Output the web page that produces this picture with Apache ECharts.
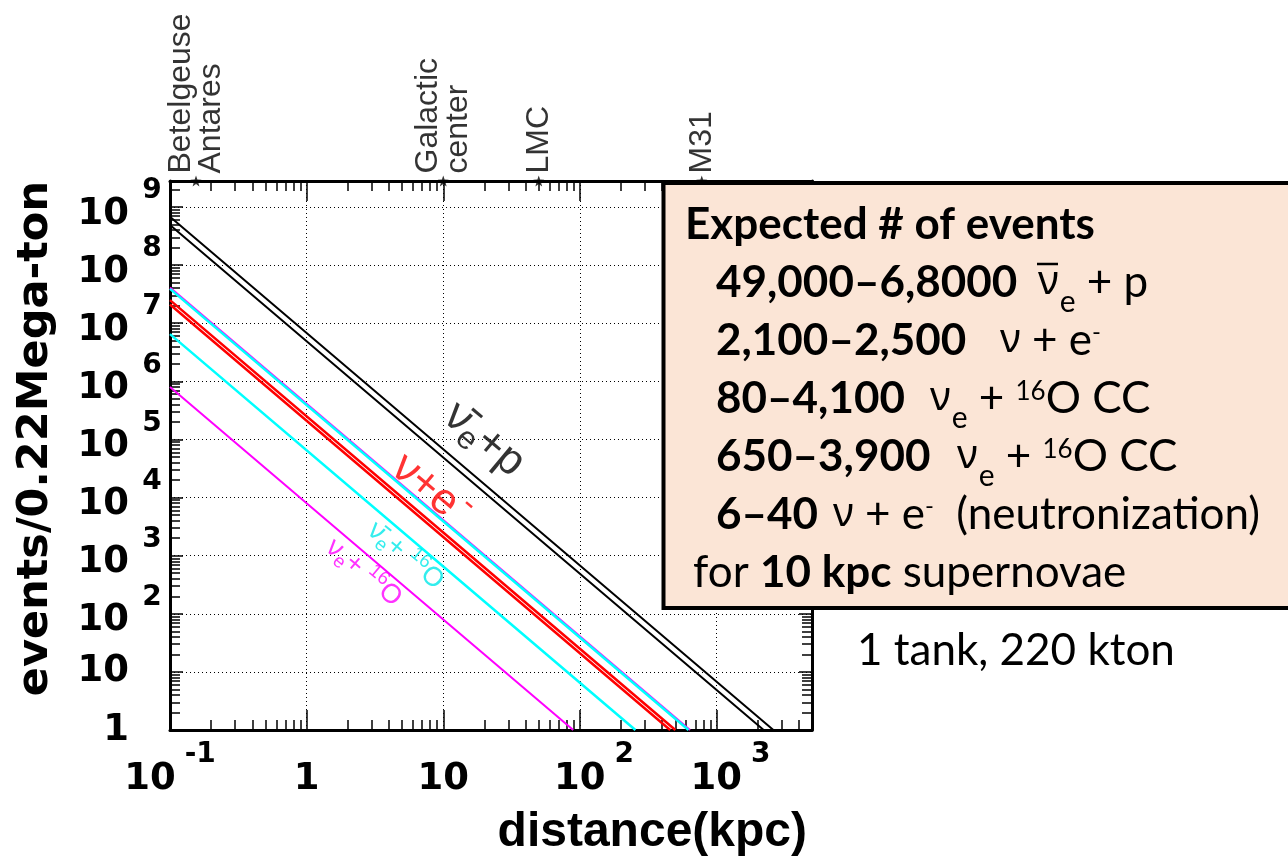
<!DOCTYPE html>
<html>
<head>
<meta charset="utf-8">
<script src="https://cdn.jsdelivr.net/npm/echarts@6/dist/echarts.min.js"></script>
<style>
html, body { margin: 0; padding: 0; background: #fff; }
#chart { width: 1288px; height: 862px; }
</style>
</head>
<body>
<div id="chart"></div>
<script>
// Axis ranges: distance in kpc, events per 0.22 Mton
const distanceRange = [0.1, 5000];
const eventRange = [1, 2.8e9];

// Each curve as [distance (kpc), events]: at 0.1 kpc, at 10 kpc, and where it falls to 1 event
const antiNuP_low   = [[0.1, 4.9e8], [10, 49000], [2214, 1]];
const antiNuP_high  = [[0.1, 6.8e8], [10, 68000], [2608, 1]];
const nuE_low       = [[0.1, 2.1e7], [10, 2100], [458, 1]];
const nuE_high      = [[0.1, 2.5e7], [10, 2500], [500, 1]];
const nuO_low       = [[0.1, 8.0e5], [10, 80], [89.4, 1]];
const nuO_high      = [[0.1, 4.1e7], [10, 4100], [640, 1]];
const antiNuO_low   = [[0.1, 6.5e6], [10, 650], [255, 1]];
const antiNuO_high  = [[0.1, 3.9e7], [10, 3900], [624, 1]];

// Nearby supernova candidates marked on the top edge
const sourceNames = ['Betelgeuse\nAntares', 'Galactic\ncenter', 'LMC', 'M31'];
const sourceDistances = [0.155, 10, 50, 780];

// Curve captions and where they sit (data coordinates)
const curveCaptions = [
  '{nu|\u03bd\u0304}{sub|e}{t|+p}',
  '{nu|\u03bd}{t|+e}{sup|-}',
  '{nus|\u03bd\u0304}{subs|e}{ts|+ }{sups|16}{ts|O}',
  '{nus|\u03bd}{subs|e}{ts|+ }{sups|16}{ts|O}'
];
const curveCaptionAt = [[20, 1.0e5], [8.1, 1.33e4], [5.3, 1000], [2.62, 510]];

const AX_FONT = 'DejaVu Sans';
const TXT_FONT = 'Liberation Sans';
const BOX_FONT = 'Lato, "Noto Sans", sans-serif';
const NU_FONT = '"Noto Sans", "DejaVu Sans", sans-serif';

function decade(v) {
  const l = Math.log10(v);
  const k = Math.round(l);
  return Math.abs(l - k) > 1e-6 ? null : k;
}

const tickDigits = { fontFamily: AX_FONT, fontWeight: 'bold', fontSize: 37, lineHeight: 36, color: '#000', verticalAlign: 'middle' };
const tickExp = { fontFamily: AX_FONT, fontWeight: 'bold', fontSize: 28, lineHeight: 20, color: '#000', verticalAlign: 'middle' };

const gridLine = { show: true, lineStyle: { color: '#000', width: 1, type: [1, 3] } };
const frameLine = { show: true, onZero: false, lineStyle: { color: '#000', width: 3 } };

function xAxisBase(extra) {
  return Object.assign({
    type: 'log', logBase: 10, min: distanceRange[0], max: distanceRange[1], splitNumber: 10,
    axisLine: frameLine,
    axisTick: { show: true, inside: true, length: 20, lineStyle: { color: '#000', width: 1.5 } },
    minorTick: { show: true, splitNumber: 9, length: 10, lineStyle: { color: '#000', width: 1.5 } },
    minorSplitLine: { show: false }
  }, extra);
}
function yAxisBase(extra) {
  return Object.assign({
    type: 'log', logBase: 10, min: eventRange[0], max: eventRange[1], splitNumber: 10,
    axisLine: frameLine,
    axisTick: { show: true, inside: true, length: 13, lineStyle: { color: '#000', width: 1.5 } },
    minorTick: { show: true, splitNumber: 9, length: 10, lineStyle: { color: '#000', width: 1.5 } },
    minorSplitLine: { show: false }
  }, extra);
}

function curve(name, data, color, width) {
  return {
    name: name, type: 'line', data: data, symbol: 'none', showSymbol: false, clip: true,
    lineStyle: { color: color, width: width }, itemStyle: { color: color },
    silent: true, z: 3
  };
}

const starPath = 'path://M0,-10L2.35,-3.24L9.51,-3.09L3.8,1.24L5.88,8.09L0,4L-5.88,8.09L-3.8,1.24L-9.51,-3.09L-2.35,-3.24Z';

const bigCaption = { fontFamily: TXT_FONT, fontSize: 44, lineHeight: 46, verticalAlign: 'middle' };
const smallCaption = { fontFamily: TXT_FONT, fontSize: 27, lineHeight: 30, verticalAlign: 'middle' };
function captionRich(color) {
  return {
    nu:   Object.assign({}, bigCaption, { color: color, fontFamily: NU_FONT }),
    t:    Object.assign({}, bigCaption, { color: color }),
    sub:  Object.assign({}, bigCaption, { color: color, fontSize: 32, lineHeight: 32, padding: [24, 0, 0, 0] }),
    sup:  Object.assign({}, bigCaption, { color: color, fontSize: 32, lineHeight: 32, padding: [0, 0, 28, 4] }),
    nus:  Object.assign({}, smallCaption, { color: color, fontFamily: NU_FONT }),
    ts:   Object.assign({}, smallCaption, { color: color }),
    subs: Object.assign({}, smallCaption, { color: color, fontSize: 19, lineHeight: 20, padding: [16, 0, 0, 0] }),
    sups: Object.assign({}, smallCaption, { color: color, fontSize: 19, lineHeight: 20, padding: [0, 0, 16, 0] })
  };
}
const captionColors = ['#000', '#ff0000', '#00e8e8', '#ff00ff'];

// Expected-events panel
const boxMain = { fontFamily: BOX_FONT, fontSize: 44, lineHeight: 50, color: '#000', verticalAlign: 'middle' };
const boxRich = {
  b:   Object.assign({}, boxMain, { fontWeight: 'bold' }),
  n:   Object.assign({}, boxMain),
  nu:  Object.assign({}, boxMain, { fontFamily: NU_FONT, fontSize: 40 }),
  sub: Object.assign({}, boxMain, { fontSize: 30, lineHeight: 32, padding: [38, 0, 0, 1] }),
  sup: Object.assign({}, boxMain, { fontSize: 26, lineHeight: 28, padding: [0, 0, 14, 0] }),
  mi:  Object.assign({}, boxMain, { fontSize: 24, lineHeight: 26, padding: [0, 0, 18, 0] })
};
function boxText(x, y, text) {
  return { type: 'text', x: x, y: y, z: 101, style: { text: text, rich: boxRich, verticalAlign: 'middle', align: 'left' } };
}

const chart = echarts.init(document.getElementById('chart'), null, { renderer: 'canvas' });
chart.setOption({
  animation: false,
  backgroundColor: '#fff',
  grid: { left: 170, right: 476, top: 181, bottom: 132, containLabel: false, outerBoundsMode: 'none' },
  xAxis: [
    xAxisBase({
      position: 'bottom',
      splitLine: gridLine,
      name: 'distance(kpc)', nameLocation: 'end', nameGap: 0, nameMoveOverlap: false,
      nameTextStyle: { fontFamily: TXT_FONT, fontWeight: 'bold', fontSize: 48, lineHeight: 50, color: '#000',
                       align: 'right', verticalAlign: 'top', padding: [78, 5, 0, 0] },
      axisLabel: {
        show: true, margin: 49, verticalAlign: 'middle', showMinLabel: true, showMaxLabel: false, hideOverlap: false,
        formatter: function (v) {
          const k = decade(v);
          if (k === null) return '';
          if (k === 0) return '{m|1}';
          if (k === 1) return '{m|10}';
          if (k < 0) return '{m|10}{x|' + k + '}';
          return '{p| }{m|10}{x|' + k + '}';
        },
        rich: {
          m: tickDigits,
          x: Object.assign({}, tickExp, { padding: [0, 0, 48, 9] }),
          p: Object.assign({}, tickExp, { width: 28 })
        }
      }
    }),
    xAxisBase({ position: 'top', splitLine: { show: false }, axisLabel: { show: false } })
  ],
  yAxis: [
    yAxisBase({
      position: 'left',
      splitLine: gridLine,
      name: 'events/0.22Mega-ton', nameLocation: 'end', nameGap: 0, nameRotate: 90, nameMoveOverlap: false,
      nameTextStyle: { fontFamily: AX_FONT, fontWeight: 'bold', fontSize: 43, lineHeight: 50, color: '#000',
                       align: 'right', verticalAlign: 'bottom', padding: [0, 0, 109, 0] },
      axisLabel: {
        show: true, margin: 7, showMinLabel: true, showMaxLabel: false, hideOverlap: false,
        formatter: function (v) {
          const k = decade(v);
          if (k === null) return '';
          if (k === 0) return '{r|1}';
          if (k === 1) return '{r|10}';
          return '{mx|10}{x|' + k + '}';
        },
        rich: {
          // plain labels keep the exponent slot empty so the digits line up
          r: Object.assign({}, tickDigits, { lineHeight: 32, padding: [0, 34, 0, 0] }),
          mx: Object.assign({}, tickDigits, { lineHeight: 32, padding: [14, 0, 0, 0] }),
          x: Object.assign({}, tickExp, { lineHeight: 16, width: 22, align: 'left', padding: [0, 0, 32, 12] })
        }
      }
    }),
    yAxisBase({ position: 'right', splitLine: { show: false }, axisLabel: { show: false } })
  ],
  series: [
    curve('anti-nu_e + p (low)', antiNuP_low, '#000', 2),
    curve('anti-nu_e + p (high)', antiNuP_high, '#000', 2),
    curve('nu_e + 16O (high)', nuO_high, '#ff00ff', 2),
    curve('anti-nu_e + 16O (high)', antiNuO_high, '#00ffff', 2.5),
    curve('nu + e (low)', nuE_low, '#ff0000', 2.5),
    curve('nu + e (high)', nuE_high, '#ff0000', 2.5),
    curve('anti-nu_e + 16O (low)', antiNuO_low, '#00ffff', 2.5),
    curve('nu_e + 16O (low)', nuO_low, '#ff00ff', 2),
    {
      name: 'sources', type: 'scatter', clip: false, silent: true, z: 5,
      symbol: starPath, symbolSize: 11,
      itemStyle: { color: '#000' },
      data: sourceDistances.map(function (d, i) { return { value: [d, eventRange[1]], name: sourceNames[i] }; }),
      label: {
        show: true, position: 'top', distance: 2, rotate: 90, align: 'left', verticalAlign: 'middle',
        formatter: function (p) { return p.name; },
        fontFamily: TXT_FONT, fontSize: 32, lineHeight: 30, color: '#000'
      }
    },
    {
      name: 'captions', type: 'scatter', clip: false, silent: true, z: 6,
      symbolSize: 0.1, itemStyle: { color: 'rgba(0,0,0,0)' },
      data: curveCaptionAt.map(function (c, i) {
        return {
          value: c,
          label: {
            show: true, position: 'inside', rotate: -40, align: 'center', verticalAlign: 'middle',
            formatter: curveCaptions[i], rich: captionRich(captionColors[i])
          }
        };
      })
    }
  ],
  graphic: [
    { type: 'rect', z: 100, shape: { x: 663.5, y: 183, width: 700, height: 425 },
      style: { fill: '#fbe5d6', stroke: '#000', lineWidth: 4 } },
    boxText(685, 225, '{b|Expected # of events}'),
    boxText(716, 283, '{b|49,000\u20136,8000}'),
    boxText(1038, 283, '{nu|\u03bd}{sub|e}{n| + p}'),
    // overline of the anti-neutrino symbol
    { type: 'line', z: 101, shape: { x1: 1037, y1: 264, x2: 1058, y2: 264 }, style: { stroke: '#000', lineWidth: 2.5 } },
    boxText(716, 341, '{b|2,100\u20132,500}'),
    boxText(1000, 341, '{nu|\u03bd}{n| + e}{mi|-}'),
    boxText(716, 399, '{b|80\u20134,100}'),
    boxText(930, 399, '{nu|\u03bd}{sub|e}{n| + }{sup|16}{n|O CC}'),
    boxText(716, 457, '{b|650\u20133,900}'),
    boxText(957, 457, '{nu|\u03bd}{sub|e}{n| + }{sup|16}{n|O CC}'),
    boxText(716, 515, '{b|6\u201340}'),
    boxText(833, 515, '{nu|\u03bd}{n| + e}{mi|-}{n|  (neutronization)}'),
    boxText(693, 573, '{n|for }{b|10 kpc}{n| supernovae}'),
    boxText(857, 651, '{n|1 tank, 220 kton}')
  ]
});
</script>
</body>
</html>
